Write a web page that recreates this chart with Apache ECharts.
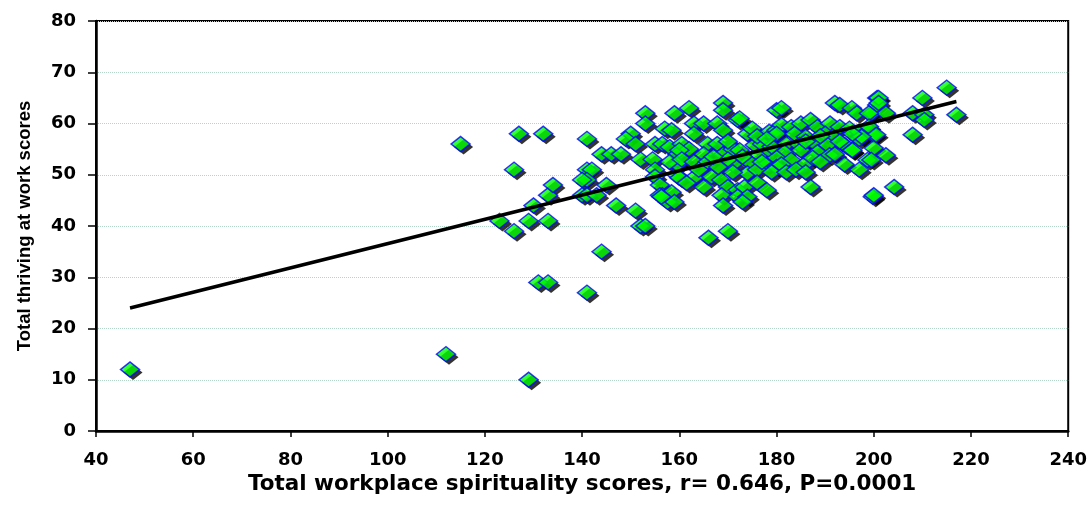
<!DOCTYPE html>
<html>
<head>
<meta charset="utf-8">
<script src="https://cdn.jsdelivr.net/npm/echarts@6/dist/echarts.min.js"></script>
<style>
html,body{margin:0;padding:0;background:#fff;}
#chart{width:1090px;height:506px;}
</style>
</head>
<body>
<div id="chart"></div>
<script>
// Total workplace spirituality scores (x) and Total thriving at work scores (y), paired
const spiritualityScores = [
  47,112,129,115,126,127,132,123,126,129,130,131,133,133,133,134,141,144,
  141,144,146,148,141,142,141,140,140,141,143,145,147,151,152,153,153,153,150,149,151,152,154.5,155,156.5,158,159.6,155,155,156,156.5,158.4,157.6,159,156,159.4,159.6,158,160.5,159,157,158.4,156.3,
  169,169,162,172,172.4,163,165,167.8,169,163,174,175,178.5,165.8,167.8,162,160,165,169,171,172.4,175.5,176.5,178.5,160.5,163,165.8,171,174.4,178,160,163,166.6,168.6,174,161.5,170,172,173.4,165,168.7,172,174,169,173,170,166,
  180,181,180,192,193,195.5,196.5,199.6,200.7,200.7,181,183,185,187,188.4,191,193,195,197,199,180,183.7,186,190,191.5,197,200,182,184.7,188,190.5,194,181.6,185,188.4,190.9,180,183,185.7,187.4,195.5,198.7,200,197,187,199.8,180,
  215,210,217,208,210.4,210.4,208,201,201,202.5,199,199,200.5,197.5,195.6,202.5,199.5,204.2,200,195.6,
  176,177,179,177,179,181,182,184,186,189,192,193,194,176,178,170,168,167,164,170,173,171,176,178,186,189
];
const thrivingScores = [
  12,15,10,56,51,58,58,41,39,41,44,29,29,41,46,48,27,35,
  57,54,54,54,51,51,49,49,46,46,46,48,44,43,40,40,62,60,58,57,56,53,53,56,56,55.4,54,51,49.6,48,46,46.6,44.7,44.7,46,50,52,52.5,56,62,59,58.7,45.7,
  64,62.6,63,60.7,61,60,60,60,58.7,58,58,59,58.4,56,56,55,54.8,54,54,55,54.8,55.8,53.8,54.8,53,52.5,52.5,52,52.5,52,49.4,49.4,49.6,49,50.3,48.4,47.6,47,47.6,47.6,46,45.7,45.7,44,44.7,39,37.7,
  62.6,63,58.7,64,63.6,63,62,62,65,63.6,59.7,59.3,60,60.7,59.3,60,59.3,59,58.4,58.7,58,58,57.4,58,57.4,57,57.8,56,55.8,56,55.8,55.8,54.4,54.8,54.4,53.8,53.3,52.9,52,53.3,54.8,52.9,55.2,51,47.6,45.7,51.5,
  67,65,61.7,62,61.7,60.7,57.8,65,64,62,62,59.4,57.8,57.4,58,53.8,52.9,47.6,46,54.8,
  51,56,55.5,52.5,50.5,52,50.5,51,50.5,52.5,54,56.5,52,57.5,57,53,51.5,53.5,51,56.5,53.5,50.5,48.5,47,56.5,57.5
];
// Regression line end points
const trendX = [47, 217];
const trendY = [24.0, 64.3];

const xTitle = 'Total workplace spirituality scores, r= 0.646, P=0.0001';
const yTitle = 'Total thriving at work scores';

const points = spiritualityScores.map((x, i) => [x, thrivingScores[i]]);
const trend = trendX.map((x, i) => [x, trendY[i]]);

const chart = echarts.init(document.getElementById('chart'), null, {renderer: 'canvas'});
const labelFont = {fontFamily: '"DejaVu Sans", sans-serif', fontWeight: 'bold', fontSize: 18, color: '#000'};
const markerSize = [19, 15];
chart.setOption({
  animation: false,
  backgroundColor: '#fff',
  grid: {left: 96, right: 21, top: 21, bottom: 75, show: true, borderColor: '#000', borderWidth: 2, backgroundColor: 'transparent'},
  xAxis: {
    type: 'value', min: 40, max: 240, interval: 20,
    name: xTitle, nameLocation: 'middle', nameGap: 40,
    nameTextStyle: {fontFamily: '"DejaVu Sans", sans-serif', fontWeight: 'bold', fontSize: 21.5, color: '#000'},
    axisLine: {show: true, onZero: false, lineStyle: {color: '#000', width: 2.5}},
    axisTick: {show: true, length: 6, lineStyle: {color: '#000', width: 1.5}},
    axisLabel: Object.assign({margin: 20}, labelFont),
    splitLine: {show: false}
  },
  yAxis: {
    type: 'value', min: 0, max: 80, interval: 10,
    name: yTitle, nameLocation: 'middle', nameGap: 62, nameRotate: 90,
    nameTextStyle: {fontFamily: '"Liberation Sans", Arial, sans-serif', fontWeight: 'bold', fontSize: 18.5, color: '#000'},
    axisLine: {show: true, onZero: false, lineStyle: {color: '#000', width: 2.5}},
    axisTick: {show: true, length: 8, lineStyle: {color: '#000', width: 1.5}},
    axisLabel: Object.assign({margin: 20}, labelFont),
    splitLine: {show: true, lineStyle: {color: '#b3d6c6', width: 1, type: 'dotted'}}
  },
  series: [
    {
      // drop shadow of each marker
      type: 'scatter',
      data: points,
      symbol: 'diamond',
      symbolSize: markerSize,
      symbolOffset: [3, 3],
      itemStyle: {color: '#000', borderWidth: 0},
      emphasis: {disabled: true},
      silent: true,
      z: 1
    },
    {
      type: 'scatter',
      data: points,
      symbol: 'diamond',
      symbolSize: markerSize,
      itemStyle: {color: '#00ff00', borderColor: '#0000ff', borderWidth: 1.5},
      emphasis: {disabled: true},
      z: 2
    },
    {
      type: 'line',
      data: trend,
      symbol: 'none',
      lineStyle: {color: '#000', width: 3.5},
      emphasis: {disabled: true},
      z: 3
    }
  ]
});
</script>
</body>
</html>
